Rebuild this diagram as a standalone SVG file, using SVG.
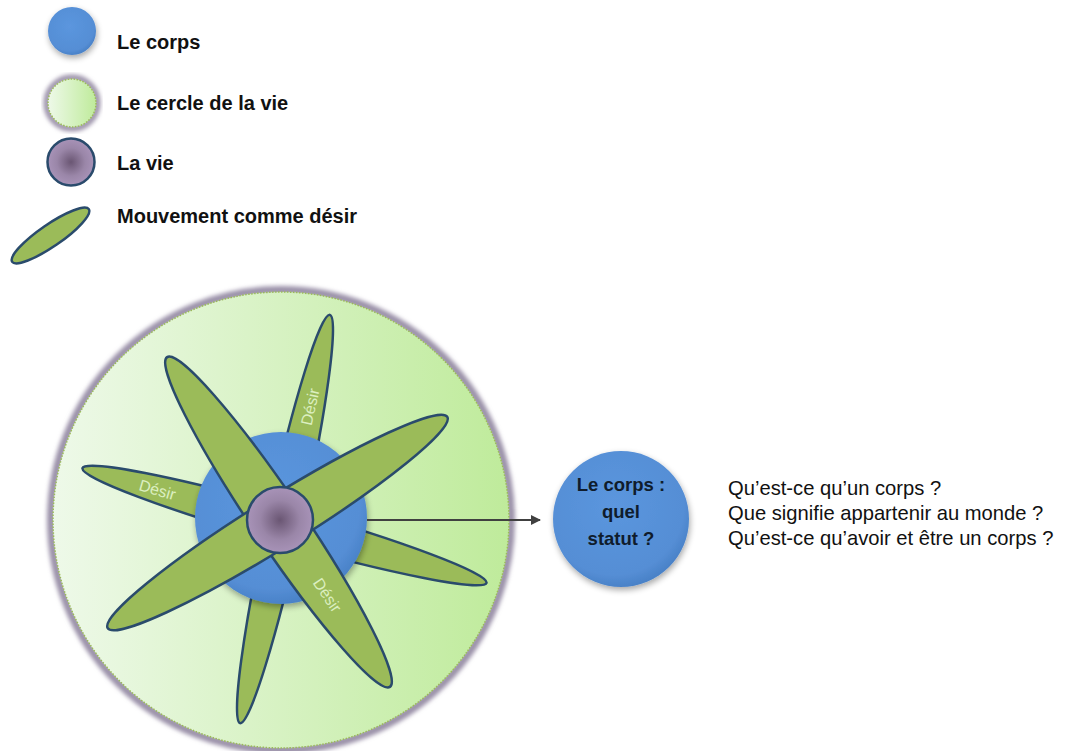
<svg xmlns="http://www.w3.org/2000/svg" width="1065" height="751" viewBox="0 0 1065 751">
<defs>
  <linearGradient id="gLife" x1="0" y1="0" x2="1" y2="0">
    <stop offset="0" stop-color="#eef9e9"/>
    <stop offset="1" stop-color="#bfeb9b"/>
  </linearGradient>
  <radialGradient id="gVie" cx="0.5" cy="0.5" r="0.5">
    <stop offset="0" stop-color="#6a5673"/>
    <stop offset="0.6" stop-color="#9a86a8"/>
    <stop offset="1" stop-color="#a893b8"/>
  </radialGradient>
  <radialGradient id="gBody" cx="0.45" cy="0.4" r="0.6">
    <stop offset="0" stop-color="#5b96de"/>
    <stop offset="0.85" stop-color="#558ed5"/>
    <stop offset="1" stop-color="#4a82c8"/>
  </radialGradient>
  <filter id="blur" x="-10%" y="-10%" width="120%" height="120%">
    <feGaussianBlur stdDeviation="2"/>
  </filter>
  <filter id="shadow" x="-20%" y="-20%" width="140%" height="140%">
    <feGaussianBlur in="SourceAlpha" stdDeviation="3"/>
    <feOffset dx="1" dy="3" result="b"/>
    <feComponentTransfer><feFuncA type="linear" slope="0.35"/></feComponentTransfer>
    <feMerge><feMergeNode/><feMergeNode in="SourceGraphic"/></feMerge>
  </filter>
  <marker id="arrow" viewBox="0 0 10 10" refX="9" refY="5" markerWidth="6" markerHeight="5" orient="auto" markerUnits="strokeWidth">
    <path d="M0,0 L10,5 L0,10 z" fill="#404040"/>
  </marker>
</defs>
<style>
  .legend { font-family: "Liberation Sans", Arial, sans-serif; font-weight: bold; font-size: 20px; fill: #111; }
  .q { font-family: "Liberation Sans", Arial, sans-serif; font-size: 20.2px; fill: #111; }
  .bub { font-family: "Liberation Sans", Arial, sans-serif; font-weight: bold; font-size: 18.5px; fill: #0f1c2c; text-anchor: middle; }
  .desir { font-family: "Liberation Sans", Arial, sans-serif; font-size: 16px; fill: #dcefc0; text-anchor: middle; }
  .petal { fill: #9bbb59; stroke: #2a4b6c; stroke-width: 2.5; }
  .body { fill: url(#gBody); }
  .vie { fill: url(#gVie); stroke: #2a4b6c; stroke-width: 2.5; }
  .lifeglow { fill: none; stroke: #9a90a8; stroke-width: 8; filter: url(#blur); }
  .life { fill: url(#gLife); stroke: #9bbb59; stroke-width: 1.5; stroke-dasharray: 1.5 1.5; }
</style>

<!-- Legend -->
<g id="legend-corps">
  <circle cx="72" cy="31" r="24" class="body" filter="url(#shadow)"/>
  <text x="117" y="49" class="legend">Le corps</text>
</g>
<g id="legend-cercle">
  <circle cx="72" cy="103" r="25.5" class="lifeglow" style="stroke-width:6"/>
  <circle cx="72" cy="103" r="24" class="life"/>
  <text x="117" y="110" class="legend">Le cercle de la vie</text>
</g>
<g id="legend-vie">
  <circle cx="71" cy="162" r="23.5" class="vie"/>
  <text x="117" y="170" class="legend">La vie</text>
</g>
<g id="legend-desir">
  <ellipse cx="0" cy="0" rx="46.5" ry="11" class="petal" transform="translate(50.5,235.5) rotate(-34.5)"/>
  <text x="117" y="223" class="legend">Mouvement comme désir</text>
</g>

<!-- Big diagram -->
<g id="cercle-vie">
  <circle cx="281" cy="520" r="230" class="lifeglow"/>
  <circle cx="281" cy="520" r="228" class="life"/>
</g>
<g id="desir-back">
  <g transform="translate(285,519) rotate(-77.6)">
    <ellipse cx="0" cy="0" rx="209" ry="17.5" class="petal"/>
    <text x="115" y="6" class="desir">Désir</text>
  </g>
  <g transform="translate(284.5,525.5) rotate(15.85)">
    <ellipse cx="0" cy="0" rx="210" ry="17.5" class="petal"/>
    <text x="-132" y="6" class="desir">Désir</text>
  </g>
</g>
<g id="corps">
  <circle cx="281" cy="518" r="86" class="body" filter="url(#shadow)"/>
</g>
<g id="desir-front">
  <g transform="translate(278.5,522) rotate(55.95)">
    <ellipse cx="0" cy="0" rx="199" ry="25" class="petal"/>
    <text x="88" y="6" class="desir">Désir</text>
  </g>
  <g transform="translate(277.5,522.5) rotate(-31.9)">
    <ellipse cx="0" cy="0" rx="200" ry="25" class="petal"/>
  </g>
</g>
<g id="vie">
  <circle cx="280" cy="520" r="33" class="vie"/>
</g>

<!-- Connector -->
<g id="connectors">
  <line x1="367" y1="520" x2="540" y2="520" stroke="#404040" stroke-width="2" marker-end="url(#arrow)"/>
</g>

<g id="statut">
  <circle cx="621" cy="519" r="68" class="body" filter="url(#shadow)"/>
  <text x="621" y="491" class="bub">Le corps :</text>
  <text x="621" y="518" class="bub">quel</text>
  <text x="621" y="545" class="bub">statut ?</text>
</g>

<g id="questions">
  <text x="728" y="495" class="q">Qu’est-ce qu’un corps ?</text>
  <text x="728" y="520" class="q">Que signifie appartenir au monde ?</text>
  <text x="728" y="545" class="q">Qu’est-ce qu’avoir et être un corps ?</text>
</g>
</svg>
